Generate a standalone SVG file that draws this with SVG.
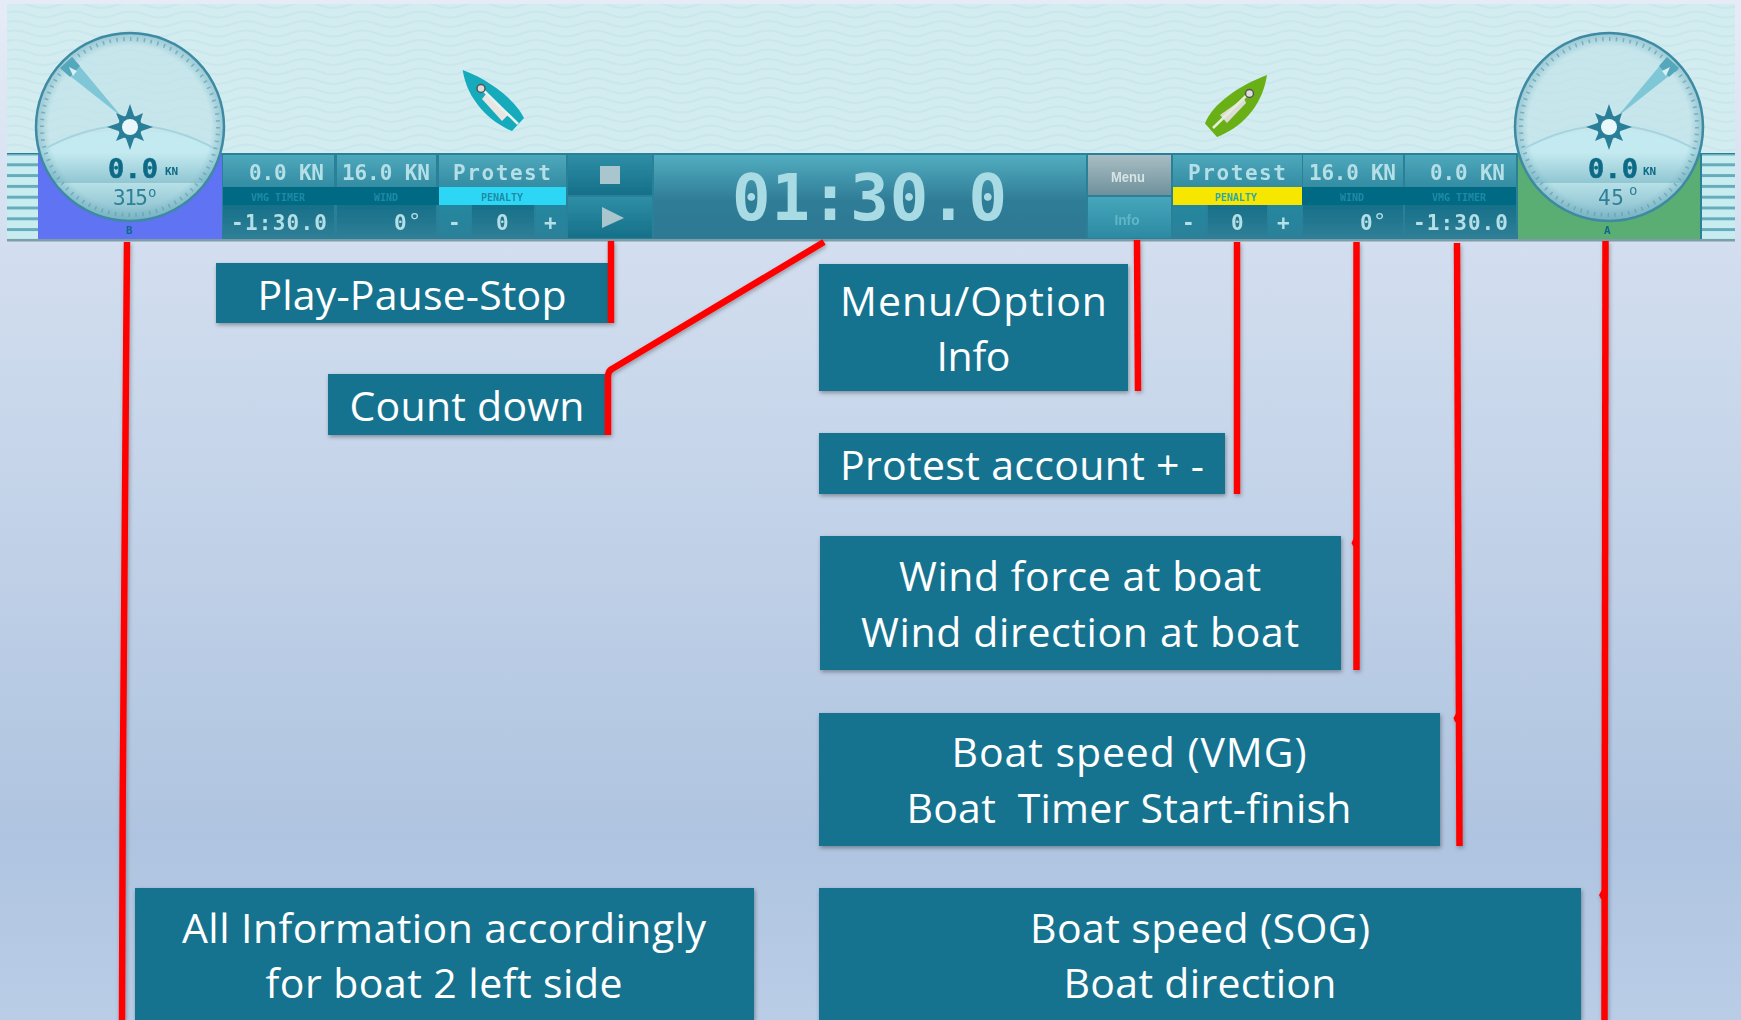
<svg xmlns="http://www.w3.org/2000/svg" width="1741" height="1020" viewBox="0 0 1741 1020">
<style>
.lb{fill:#17738f}
.lt{font-family:"Open Sans","Noto Sans",sans-serif;font-size:41px;fill:#fff;text-anchor:middle}
.d{font-family:"DejaVu Sans Mono",monospace;fill:#b4dfe6;font-weight:bold;font-size:21px}
.h{font-family:"DejaVu Sans Mono",monospace;fill:#1c8ba6;font-size:10px;font-weight:bold;text-anchor:middle}
.n{font-family:"DejaVu Sans Mono",monospace;fill:#0f6a86;font-weight:bold;font-size:27px;stroke:#0f6a86;stroke-width:.6}
.k{font-family:"DejaVu Sans Mono",monospace;fill:#0f6a86;font-weight:bold;font-size:11px}
.a{font-family:"DejaVu Sans Mono",monospace;fill:#2e7f98;font-size:21px}
.c{fill:none;stroke:#f00;stroke-width:6.500}
.bp{fill:#f00;stroke:none}
</style>
<defs>
<linearGradient id="bg" x1="0" y1="0" x2="0" y2="1"><stop offset="0" stop-color="#e6ecf7"/><stop offset=".25" stop-color="#d2deef"/><stop offset=".82" stop-color="#afc4e0"/><stop offset="1" stop-color="#b9cde7"/></linearGradient>
<linearGradient id="top" x1="0" y1="0" x2="0" y2="1"><stop offset="0" stop-color="#4ea8bc"/><stop offset="1" stop-color="#338ca2"/></linearGradient>
<linearGradient id="bot" x1="0" y1="0" x2="0" y2="1"><stop offset="0" stop-color="#167088"/><stop offset="1" stop-color="#2f7f97"/></linearGradient>
<linearGradient id="pm" x1="0" y1="0" x2="0" y2="1"><stop offset="0" stop-color="#24879f"/><stop offset="1" stop-color="#2b8199"/></linearGradient>
<linearGradient id="tim" x1="0" y1="0" x2="0" y2="1"><stop offset="0" stop-color="#52adc0"/><stop offset=".55" stop-color="#2f7c96"/><stop offset="1" stop-color="#2e7893"/></linearGradient>
<linearGradient id="btn" x1="0" y1="0" x2="0" y2="1"><stop offset="0" stop-color="#2e8ea6"/><stop offset="1" stop-color="#157088"/></linearGradient>
<linearGradient id="mn" x1="0" y1="0" x2="0" y2="1"><stop offset="0" stop-color="#a9bdc3"/><stop offset="1" stop-color="#6e919b"/></linearGradient>
<linearGradient id="inf" x1="0" y1="0" x2="0" y2="1"><stop offset="0" stop-color="#46a6bb"/><stop offset="1" stop-color="#2b8aa2"/></linearGradient>
<linearGradient id="low1" x1="0" y1="0" x2="0" y2="1"><stop offset="0" stop-color="#c3e9ef"/><stop offset="1" stop-color="#90c6d2"/></linearGradient>
<linearGradient id="low2" x1="0" y1="0" x2="0" y2="1"><stop offset="0" stop-color="#b7e0e7"/><stop offset="1" stop-color="#7fb8c8"/></linearGradient>
<radialGradient id="rim" cx=".5" cy=".5" r=".5"><stop offset=".86" stop-color="#6aa9ba" stop-opacity="0"/><stop offset="1" stop-color="#6aa9ba" stop-opacity=".5"/></radialGradient>
<pattern id="w" width="58" height="19" patternUnits="userSpaceOnUse"><path d="M0 5Q14.500-1 29 5T58 5M0 14.500Q14.500 8.500 29 14.500T58 14.500" fill="none" stroke="#c9e7ec" stroke-width="2.200"/></pattern>
<pattern id="s" width="40" height="10.800" patternUnits="userSpaceOnUse" patternTransform="translate(0 152.500)"><rect width="40" height="3" fill="#68acbb"/></pattern>
<filter id="sh" x="-5%" y="-10%" width="110%" height="125%"><feDropShadow dx="1" dy="2" stdDeviation="2" flood-color="#000" flood-opacity=".35"/></filter>
<filter id="shl" x="-100" y="-100" width="2000" height="1300" filterUnits="userSpaceOnUse"><feDropShadow dx="1" dy="2" stdDeviation="2" flood-color="#000" flood-opacity=".3"/></filter>
<filter id="b" x="0" y="0" width="100%" height="100%"><feGaussianBlur stdDeviation=".7"/></filter>
<g id="sun"><path d="M0-23 4.500-10 13-14 10-4.500 23 0 10 4.500 14 14 4.500 10 0 23-4.500 10-14 14-10 4.500-23 0-10-4.500-14-14-4.500-10Z" fill="#2b7f98"/><circle r="12" fill="#2b7f98"/><circle r="8" fill="#e8f7f9"/></g>
<clipPath id="cc"><circle r="94"/></clipPath>
<g id="dial">
<circle r="94" fill="#bfe2e9" fill-opacity=".6"/>
<g clip-path="url(#cc)"><path d="M-100 28Q0-22 100 28V30H-100Z" fill="#c3eaf0"/><rect x="-100" y="26" width="200" height="30" fill="url(#low1)"/><rect x="-100" y="56" width="200" height="40" fill="url(#low2)"/></g>
<circle r="94" fill="url(#rim)"/>
<path d="M-89 24Q0-27 89 24" fill="none" stroke="#a4d4de" stroke-width="2"/>
<circle r="88" fill="none" stroke="#5f9fb2" stroke-width="4" stroke-opacity=".7" stroke-dasharray="1.500 5.400"/>
<circle r="94" fill="none" stroke="#3c8aa2" stroke-width="2.500"/>
</g>
</defs>
<rect width="1741" height="1020" fill="url(#bg)"/>

<g id="game" filter="url(#b)">
<rect x="7" y="4" width="1728" height="150" fill="#d3ecf0"/>
<rect x="7" y="4" width="1728" height="150" fill="url(#w)"/>
<rect x="7" y="153" width="1728" height="87" fill="#2b8098"/>
<rect x="7" y="239" width="1728" height="2.500" fill="#7f9da8"/>
<rect x="7" y="154" width="31" height="85" fill="#c8edf1"/>
<rect x="7" y="154" width="31" height="85" fill="url(#s)"/>
<rect x="1702" y="154" width="33" height="85" fill="#c8edf1"/>
<rect x="1702" y="154" width="33" height="85" fill="url(#s)"/>
<rect x="38" y="154" width="184" height="85" fill="#5f73f3"/>
<rect x="1518" y="154" width="182" height="85" fill="#5aad73"/>

<rect x="223" y="155" width="111" height="32" fill="url(#top)"/>
<rect x="337" y="155" width="99" height="32" fill="url(#top)"/>
<rect x="439" y="155" width="127" height="32" fill="url(#top)"/>
<rect x="223" y="187" width="216" height="18" fill="#026a85"/>
<rect x="439" y="187" width="127" height="18" fill="#2fd6f5"/>
<rect x="223" y="205" width="111" height="33" fill="url(#bot)"/>
<rect x="337" y="205" width="99" height="33" fill="url(#bot)"/>
<rect x="439" y="205" width="32" height="33" fill="url(#pm)"/>
<rect x="472" y="205" width="62" height="33" fill="url(#bot)"/>
<rect x="536" y="205" width="30" height="33" fill="url(#pm)"/>
<rect x="568" y="155" width="84" height="40" fill="url(#btn)"/>
<rect x="568" y="197" width="84" height="41" fill="url(#btn)"/>
<rect x="654" y="155" width="432" height="83" fill="url(#tim)"/>
<rect x="1088" y="155" width="83" height="40" fill="url(#mn)"/>
<rect x="1088" y="197" width="83" height="41" fill="url(#inf)"/>
<rect x="1173" y="155" width="129" height="32" fill="url(#top)"/>
<rect x="1303" y="155" width="100" height="32" fill="url(#top)"/>
<rect x="1405" y="155" width="111" height="32" fill="url(#top)"/>
<rect x="1173" y="187" width="129" height="18" fill="#f7e600"/>
<rect x="1302" y="187" width="214" height="18" fill="#026a85"/>
<rect x="1173" y="205" width="33" height="33" fill="url(#pm)"/>
<rect x="1208" y="205" width="59" height="33" fill="url(#bot)"/>
<rect x="1269" y="205" width="33" height="33" fill="url(#pm)"/>
<rect x="1303" y="205" width="100" height="33" fill="url(#bot)"/>
<rect x="1405" y="205" width="111" height="33" fill="url(#bot)"/>

<text class="d" x="249" y="180" textLength="75">0.0 KN</text>
<text class="d" x="342" y="180" textLength="88">16.0 KN</text>
<text class="d" x="453" y="180" textLength="98">Protest</text>
<text class="h" x="278" y="201">VMG TIMER</text>
<text class="h" x="386" y="201">WIND</text>
<text class="h" x="502" y="201">PENALTY</text>
<text class="d" x="231" y="230" textLength="96">-1:30.0</text>
<text class="d" x="394" y="230">0</text><text class="d" x="408" y="229" style="font-size:22px;font-weight:normal">°</text>
<text class="d" x="496" y="230">0</text><text class="d" x="448" y="230">-</text><text class="d" x="544" y="230">+</text>
<rect x="600" y="166" width="20" height="18" fill="#a9c5cd"/>
<path d="M602 207 624 218 602 228Z" fill="#a9c5cd"/>
<text class="d" x="732" y="220" style="font-size:64px;fill:#a8dbe3" textLength="275">01:30.0</text>
<text x="1128" y="182" text-anchor="middle" font-family="Liberation Sans,sans-serif" font-size="15" font-weight="bold" fill="#d5e4e7" textLength="34" lengthAdjust="spacingAndGlyphs">Menu</text>
<text x="1127" y="225" text-anchor="middle" font-family="Liberation Sans,sans-serif" font-size="15" font-weight="bold" fill="#5fb6c9" textLength="25" lengthAdjust="spacingAndGlyphs">Info</text>
<text class="d" x="1188" y="180" textLength="98">Protest</text>
<text class="d" x="1309" y="180" textLength="87">16.0 KN</text>
<text class="d" x="1430" y="180" textLength="75">0.0 KN</text>
<text class="h" x="1236" y="201" style="fill:#29a7a8">PENALTY</text>
<text class="h" x="1352" y="201">WIND</text>
<text class="h" x="1459" y="201">VMG TIMER</text>
<text class="d" x="1182" y="230">-</text><text class="d" x="1231" y="230">0</text><text class="d" x="1277" y="230">+</text>
<text class="d" x="1360" y="230">0</text><text class="d" x="1373" y="229" style="font-size:22px;font-weight:normal">°</text>
<text class="d" x="1413" y="230" textLength="95">-1:30.0</text>

<g id="boat1"><path d="M462.700 70C490 80 515 100 524 118L512 131C490 122 467 100 462.700 70Z" fill="#12aabd"/><path d="M486 94 509 114 502 121 482 99Z" fill="#e8e6e3"/><path d="M481 88 518 124" stroke="#e8f2f2" stroke-width="2.500" fill="none"/><circle cx="481" cy="88.500" r="4" fill="#ddd" stroke="#555" stroke-width="1.500"/></g>
<g id="boat2"><path d="M1267 75C1240 85 1212 104 1205 123.500L1217 137C1240 128 1262 108 1267 75Z" fill="#69b013"/><path d="M1244 98 1220 115 1227 123 1246 103Z" fill="#dcdcd8"/><path d="M1249 93 1213 128" stroke="#e4efd8" stroke-width="2.500" fill="none"/><circle cx="1249.500" cy="93.500" r="4" fill="#ddd" stroke="#555" stroke-width="1.500"/></g>

<g id="compass1" transform="translate(130 127)">
<use href="#dial"/>
<path d="M-8-10-70-59-58-70Z" fill="#7fc7d6"/><path d="M-60-50-70-59-58-70-50-61Z" fill="#55a8bb"/><path d="M-61-60-53-56-57-51Z" fill="#d8f0f4"/>
<use href="#sun"/>
</g>
<g id="compass2" transform="translate(1609 127)">
<use href="#dial"/>
<path d="M8-10 58-70 70-59Z" fill="#7fc7d6"/><path d="M50-61 58-70 70-59 60-50Z" fill="#55a8bb"/><path d="M61-60 53-56 57-51Z" fill="#d8f0f4"/>
<use href="#sun"/>
</g>
<text class="n" x="108" y="178" textLength="50">0.0</text><text class="k" x="165" y="175">KN</text>
<text class="a" x="113" y="205" textLength="35">315</text><text class="a" x="148" y="197" style="font-size:14px">o</text>
<text class="k" x="126" y="234">B</text>
<text class="n" x="1588" y="178" textLength="50">0.0</text><text class="k" x="1643" y="175">KN</text>
<text class="a" x="1598" y="205" textLength="26">45</text><text class="a" x="1629" y="195" style="font-size:14px">o</text>
<text class="k" x="1604" y="234">A</text>
</g>

<g id="n-play"><rect class="lb" x="216" y="263" width="392" height="60" filter="url(#sh)"/><text class="lt" x="412" y="310" textLength="309">Play-Pause-Stop</text></g>
<g id="n-count"><rect class="lb" x="328" y="374" width="277" height="61" filter="url(#sh)"/><text class="lt" x="467" y="421" textLength="235">Count down</text></g>
<g id="n-menu"><rect class="lb" x="819" y="264" width="309" height="127" filter="url(#sh)"/><text class="lt" x="973.500" y="316" textLength="267">Menu/Option</text><text class="lt" x="973.500" y="371" textLength="74">Info</text></g>
<g id="n-protest"><rect class="lb" x="819" y="433" width="406" height="61" filter="url(#sh)"/><text class="lt" x="840" y="480" style="text-anchor:start" textLength="364">Protest account + -</text></g>
<g id="n-wind"><rect class="lb" x="820" y="536" width="521" height="134" filter="url(#sh)"/><text class="lt" x="1080" y="591" textLength="362">Wind force at boat</text><text class="lt" x="1080" y="647" textLength="438">Wind direction at boat</text></g>
<g id="n-vmg"><rect class="lb" x="819" y="713" width="621" height="133" filter="url(#sh)"/><text class="lt" x="1129" y="767" textLength="355">Boat speed (VMG)</text><text class="lt" x="1129" y="823" xml:space="preserve" textLength="445">Boat  Timer Start-finish</text></g>
<g id="n-all"><rect class="lb" x="135" y="888" width="619" height="132" filter="url(#sh)"/><text class="lt" x="444" y="943" textLength="524">All Information accordingly</text><text class="lt" x="444" y="998" textLength="357">for boat 2 left side</text></g>
<g id="n-sog"><rect class="lb" x="819" y="888" width="762" height="132" filter="url(#sh)"/><text class="lt" x="1200" y="943" textLength="340">Boat speed (SOG)</text><text class="lt" x="1200" y="998" textLength="273">Boat direction</text></g>

<g id="connectors" filter="url(#shl)">
<path class="c" d="M127 242 122.700 800 122 1020"/>
<path class="c" d="M611 241V323"/>
<path class="c" d="M824 242 612 369Q608 371 608 377V435"/>
<path class="c" d="M1137 240 1138 391"/>
<path class="c" d="M1237 242V494"/>
<path class="c" d="M1356.500 242V670"/>
<path class="c" d="M1457 243 1459.500 846"/>
<path class="c" d="M1605.500 241 1604.500 1020"/>
<path class="bp" d="M1356 533 1351.500 543 1353 546H1358Z"/>
<path class="bp" d="M1459 708 1453.500 718 1455 722H1460Z"/>
<path class="bp" d="M1605 884 1599 895 1601 899H1606Z"/>
</g>
</svg>
